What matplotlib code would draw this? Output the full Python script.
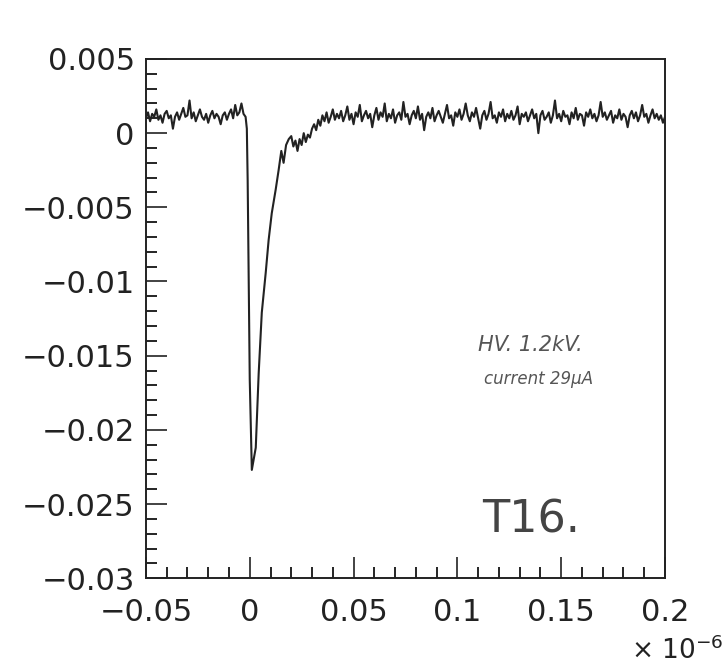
import numpy as np
import matplotlib
matplotlib.use('Agg')
import matplotlib.pyplot as plt
from matplotlib.ticker import MultipleLocator

# scope trace, time in units of 1e-6 s, amplitude in V
# pre-trigger baseline, sampled every 0.001 from -0.050 (values x 1e-4)
t_pre0 = -0.050
pre_e4 = [10, 14, 8, 13, 11, 16, 9, 12, 7, 13,
          15, 10, 12, 3, 11, 14, 9, 13, 17, 11,
          12, 22, 10, 14, 8, 12, 16, 11, 9, 13,
          7, 12, 15, 10, 13, 11, 6, 12, 14, 9,
          13, 16, 10, 19, 12, 14, 20, 13, 11]

# the pulse itself
pulse_t = [-0.0014, -0.0010, 0.0000, 0.0010, 0.0029, 0.0043, 0.0058, 0.0077,
           0.0091, 0.0106, 0.0125, 0.0139, 0.0152, 0.0163, 0.0175, 0.0188]
pulse_v = [0.0003, -0.0032, -0.0166, -0.0227, -0.0212, -0.0162, -0.0121, -0.0094,
           -0.0072, -0.0054, -0.0038, -0.0025, -0.0012, -0.0020, -0.0008, -0.0004]

# recovery + baseline after the pulse, every 0.001 from 0.020 (values x 1e-4)
t_post0 = 0.020
post_e4 = [-2, -9, -5, -12, -4, -8, 0, -6, -1, -3, 3,
           6, 2, 9, 5, 12, 8, 14, 7, 11, 16, 9, 13, 10, 15, 8,
           12, 18, 9, 13, 6, 14, 11, 19, 8, 12,
           15, 10, 13, 4, 12, 17, 9, 14, 11, 20,
           8, 13, 10, 16, 7, 12, 14, 9, 21, 11,
           13, 6, 12, 15, 10, 18, 9, 13, 2, 11,
           14, 10, 17, 8, 12, 15, 11, 7, 13, 19,
           10, 12, 5, 14, 11, 16, 9, 13, 20, 12,
           8, 14, 11, 17, 10, 3, 12, 15, 9, 13,
           21, 10, 12, 7, 14, 11, 16, 8, 13, 10,
           15, 9, 12, 18, 6, 13, 11, 14, 8, 12,
           16, 10, 13, 0, 12, 15, 9, 11, 14, 7,
           12, 22, 10, 13, 8, 15, 11, 12, 6, 14,
           10, 17, 9, 13, 12, 5, 14, 11, 16, 10,
           13, 8, 12, 21, 11, 14, 9, 12, 15, 7,
           12, 10, 16, 9, 13, 11, 4, 12, 15, 10,
           14, 8, 12, 19, 11, 13, 7, 12, 16, 10,
           13, 9, 12, 7, 11]
dt = 0.001

t_pre = t_pre0 + dt * np.arange(len(pre_e4))
t_post = t_post0 + dt * np.arange(len(post_e4))
t = np.concatenate([t_pre, pulse_t, t_post])
v = np.concatenate([np.array(pre_e4) * 1e-4, pulse_v, np.array(post_e4) * 1e-4])

plt.rcParams['font.family'] = 'DejaVu Sans'

fig = plt.figure(figsize=(7.26, 6.70), dpi=100, facecolor='w')
ax = fig.add_axes([0.201, 0.137, 0.715, 0.775])
ax.plot(t, v, color='#222222', lw=1.5)

ax.set_xlim(-0.05, 0.2)
ax.set_ylim(-0.03, 0.005)
ax.xaxis.set_major_locator(MultipleLocator(0.05))
ax.xaxis.set_minor_locator(MultipleLocator(0.01))
ax.yaxis.set_major_locator(MultipleLocator(0.005))
ax.yaxis.set_minor_locator(MultipleLocator(0.001))
ax.set_xticks([-0.05, 0, 0.05, 0.1, 0.15, 0.2])
ax.set_xticklabels(['\u22120.05', '0', '0.05', '0.1', '0.15', '0.2'])
ax.set_yticks([-0.03, -0.025, -0.02, -0.015, -0.01, -0.005, 0, 0.005])
ax.set_yticklabels(['\u22120.03', '\u22120.025', '\u22120.02', '\u22120.015',
                    '\u22120.01', '\u22120.005', '0', '0.005'])
ax.tick_params(which='major', direction='in', length=15, width=1.2,
               labelsize=22, colors='#222222', pad=8)
ax.tick_params(which='minor', direction='in', length=8, width=1.2)
ax.tick_params(axis='x', pad=14)
for s in ax.spines.values():
    s.set_linewidth(1.4)
    s.set_color('#222222')

fig.text(0.997, 0.008, '\u00d7 10$^{-6}$', fontsize=19, color='#222222', ha='right', va='bottom')

# handwritten notes on the printout
ax.text(0.110, -0.0143, 'HV. 1.2kV.', fontsize=15, style='italic', color='#555555', va='center')
ax.text(0.113, -0.0166, 'current 29\u00b5A', fontsize=12, style='italic', color='#555555', va='center')
ax.text(0.112, -0.0261, 'T16.', fontsize=32, color='#444444', va='center')

plt.savefig('out.png', dpi=100)
